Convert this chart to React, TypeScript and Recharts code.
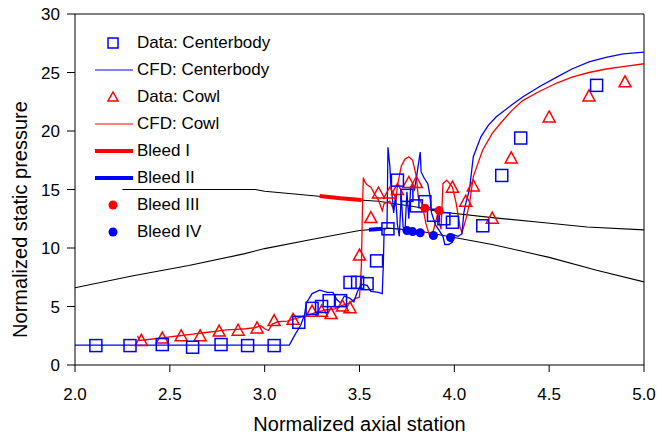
import {
  ComposedChart,
  Line,
  Scatter,
  XAxis,
  YAxis,
  ReferenceLine,
} from "recharts";

type Pt = { x: number; y: number };
const pts = (rows: number[][]): Pt[] => rows.map(([x, y]) => ({ x, y }));

const xTicks = [2.0, 2.5, 3.0, 3.5, 4.0, 4.5, 5.0];
const yTicks = [0, 5, 10, 15, 20, 25, 30];

const dataCenterbody = pts([
  [2.11, 1.66], [2.29, 1.66], [2.46, 1.75], [2.62, 1.52], [2.77, 1.75],
  [2.91, 1.66], [3.05, 1.66], [3.18, 3.65], [3.25, 4.84], [3.3, 5.0],
  [3.34, 5.5], [3.4, 5.5], [3.45, 7.06], [3.49, 7.06], [3.54, 6.95],
  [3.59, 8.9], [3.65, 11.64], [3.7, 15.8], [3.75, 14.5], [3.8, 13.6],
  [3.845, 13.96], [3.89, 12.8], [3.945, 12.5], [3.99, 12.2], [4.15, 11.9],
  [4.25, 16.2], [4.35, 19.4], [4.75, 23.9],
]);

const dataCowl = pts([
  [2.35, 2.1], [2.46, 2.3], [2.56, 2.5], [2.66, 2.5], [2.76, 2.9],
  [2.86, 2.97], [2.96, 3.17], [3.05, 3.8], [3.15, 3.9], [3.25, 4.6],
  [3.3, 4.6], [3.35, 4.4], [3.41, 5.05], [3.45, 4.9], [3.5, 9.4],
  [3.56, 12.6], [3.6, 14.7], [3.66, 14.7], [3.7, 15.0], [3.76, 15.6],
  [3.8, 15.6], [3.99, 15.2], [4.06, 14.0], [4.1, 15.3], [4.2, 12.55],
  [4.3, 17.7], [4.5, 21.2], [4.71, 23.0], [4.9, 24.2],
]);

const cfdCenterbody = pts([
  [2.0, 1.7], [3.13, 1.7], [3.16, 2.6], [3.19, 3.4], [3.21, 4.3],
  [3.22, 5.3], [3.25, 6.1], [3.29, 6.4], [3.33, 6.2], [3.36, 6.2],
  [3.38, 5.6], [3.4, 5.3], [3.42, 5.9], [3.45, 5.7], [3.47, 5.4],
  [3.49, 6.3], [3.51, 6.9], [3.54, 6.8], [3.56, 6.3], [3.6, 6.2],
  [3.62, 6.1], [3.625, 8.3], [3.63, 11.6], [3.645, 11.7], [3.65, 18.6],
  [3.66, 17.0], [3.665, 15.5], [3.675, 14.0], [3.68, 13.0], [3.69, 14.5],
  [3.7, 12.0], [3.71, 11.0], [3.72, 14.5], [3.73, 11.8], [3.74, 11.5],
  [3.75, 14.8], [3.76, 12.5], [3.77, 15.2], [3.78, 15.3], [3.79, 15.0],
  [3.8, 16.0], [3.82, 18.2], [3.825, 16.5], [3.84, 16.0], [3.86, 15.5],
  [3.87, 14.6], [3.88, 13.0], [3.9, 12.0], [3.92, 11.5], [3.94, 11.0],
  [3.95, 10.3], [3.97, 10.3], [3.99, 10.5], [4.0, 11.1], [4.02, 11.0],
  [4.04, 11.2], [4.05, 13.0], [4.06, 13.8], [4.07, 14.4], [4.08, 15.0],
  [4.1, 17.8], [4.14, 19.5], [4.18, 20.5], [4.22, 21.2], [4.3, 22.2],
  [4.36, 22.9], [4.45, 23.8], [4.54, 24.6], [4.62, 25.3], [4.71, 25.9],
  [4.8, 26.3], [4.89, 26.6], [5.0, 26.75],
]);

const cfdCowl = pts([
  [2.33, 2.5], [2.34, 2.1], [2.4, 2.2], [2.45, 2.3], [2.5, 2.4],
  [2.55, 2.5], [2.6, 2.6], [2.65, 2.7], [2.7, 2.8], [2.75, 2.9],
  [2.8, 3.0], [2.85, 3.05], [2.9, 3.1], [2.95, 3.2], [2.98, 3.35],
  [3.0, 3.1], [3.02, 2.95], [3.04, 3.5], [3.07, 3.7], [3.12, 3.75],
  [3.17, 4.0], [3.22, 4.2], [3.27, 4.5], [3.32, 4.7], [3.37, 4.8],
  [3.41, 5.1], [3.45, 5.3], [3.48, 5.7], [3.5, 5.8], [3.51, 8.5],
  [3.515, 13.0], [3.52, 16.0], [3.53, 15.6], [3.54, 15.4], [3.56, 15.2],
  [3.58, 14.6], [3.6, 14.1], [3.62, 13.2], [3.63, 13.8], [3.66, 14.0],
  [3.68, 13.3], [3.69, 13.8], [3.7, 15.3], [3.72, 17.0], [3.74, 17.6],
  [3.76, 17.8], [3.78, 17.5], [3.8, 16.1], [3.81, 14.3], [3.83, 13.8],
  [3.85, 12.1], [3.87, 11.0], [3.89, 11.5], [3.91, 12.8], [3.93, 11.6],
  [3.94, 15.5], [3.96, 15.8], [3.99, 15.2], [4.01, 13.8], [4.03, 11.8],
  [4.04, 11.3], [4.06, 12.4], [4.08, 13.8], [4.1, 16.1], [4.15, 18.4],
  [4.2, 19.8], [4.24, 20.6], [4.3, 21.7], [4.36, 22.6], [4.45, 23.4],
  [4.54, 24.1], [4.62, 24.6], [4.71, 25.0], [4.8, 25.3], [4.89, 25.5],
  [5.0, 25.75],
]);

const upperWall = pts([
  [2.25, 15.0], [2.95, 15.0], [3.0, 14.85], [3.3, 14.4], [3.5, 14.1],
  [3.6, 14.0], [3.8, 13.5], [3.92, 13.1], [4.2, 12.6], [4.45, 12.2],
  [4.7, 11.8], [5.0, 11.55],
]);

const lowerWall = pts([
  [2.0, 6.6], [2.3, 7.6], [2.6, 8.5], [2.89, 9.5], [3.0, 9.95],
  [3.24, 10.7], [3.5, 11.5], [3.65, 11.7], [3.8, 11.5], [4.0, 10.9],
  [4.2, 10.3], [4.5, 9.2], [4.75, 8.1], [5.0, 7.1],
]);

const bleedI = pts([[3.29, 14.45], [3.4, 14.25], [3.51, 14.1]]);
const bleedII = pts([[3.55, 11.55], [3.62, 11.65]]);
const bleedIII = pts([[3.845, 13.4], [3.92, 13.2]]);
const bleedIV = pts([
  [3.75, 11.5], [3.78, 11.4], [3.82, 11.3], [3.89, 11.07], [3.98, 10.9],
]);

const legendItems = [
  "Data: Centerbody",
  "CFD: Centerbody",
  "Data: Cowl",
  "CFD: Cowl",
  "Bleed I",
  "Bleed II",
  "Bleed III",
  "Bleed IV",
];

const BLUE = "#0000ff";
const RED = "#ff0000";
const FONT = "'Liberation Sans', Arial, sans-serif";

const Square = (props: any) => {
  const { cx, cy } = props;
  return (
    <rect x={cx - 6} y={cy - 6} width={12} height={12} fill="none" stroke={BLUE} strokeWidth={1.5} />
  );
};

const Triangle = (props: any) => {
  const { cx, cy } = props;
  return (
    <path
      d={`M${cx},${cy - 6} L${cx + 6},${cy + 5} L${cx - 6},${cy + 5} Z`}
      fill="none"
      stroke={RED}
      strokeWidth={1.5}
    />
  );
};

const Dot = (color: string) => (props: any) => (
  <circle cx={props.cx} cy={props.cy} r={4.5} fill={color} />
);

const LegendIcon = ({ i }: { i: number }) => {
  switch (i) {
    case 0:
      return <rect x={13} y={4} width={10} height={10} fill="none" stroke={BLUE} strokeWidth={1.5} />;
    case 1:
      return <line x1={0} y1={9} x2={38} y2={9} stroke={BLUE} strokeWidth={1} />;
    case 2:
      return <path d="M18,4 L23,13 L13,13 Z" fill="none" stroke={RED} strokeWidth={1.5} />;
    case 3:
      return <line x1={0} y1={9} x2={38} y2={9} stroke={RED} strokeWidth={1} />;
    case 4:
      return <line x1={0} y1={9} x2={38} y2={9} stroke={RED} strokeWidth={4} />;
    case 5:
      return <line x1={0} y1={9} x2={38} y2={9} stroke={BLUE} strokeWidth={4} />;
    case 6:
      return <circle cx={18} cy={9} r={4.5} fill={RED} />;
    default:
      return <circle cx={18} cy={9} r={4.5} fill={BLUE} />;
  }
};

export default function App() {
  const tick = { fill: "#000", fontSize: 17, fontFamily: FONT };
  return (
    <div style={{ position: "absolute", left: 0, top: 0, width: 657, height: 440, background: "#fff" }}>
      <ComposedChart
        width={657}
        height={440}
        margin={{ top: 14, right: 13, bottom: 0, left: 0 }}
      >
        <XAxis
          type="number"
          dataKey="x"
          domain={[2, 5]}
          ticks={xTicks}
          tickFormatter={(v: number) => v.toFixed(1)}
          allowDataOverflow
          height={75}
          stroke="#000"
          tickSize={7}
          tickMargin={16}
          tick={tick}
          label={{
            value: "Normalized axial station",
            position: "insideBottom",
            offset: 9,
            style: { fill: "#000", fontSize: 20, fontFamily: FONT },
          }}
        />
        <YAxis
          type="number"
          dataKey="y"
          domain={[0, 30]}
          ticks={yTicks}
          allowDataOverflow
          width={75}
          stroke="#000"
          tickSize={8}
          tickMargin={7}
          tick={tick}
          label={{
            value: "Normalized static pressure",
            angle: -90,
            position: "insideLeft",
            offset: 20,
            dy: 30,
            style: { fill: "#000", fontSize: 20, fontFamily: FONT, textAnchor: "middle" },
          }}
        />
        <ReferenceLine y={30} stroke="#000" strokeWidth={1} />
        <ReferenceLine x={5} stroke="#000" strokeWidth={1} />

        <Line data={upperWall} dataKey="y" stroke="#000" strokeWidth={1.1} dot={false} isAnimationActive={false} />
        <Line data={lowerWall} dataKey="y" stroke="#000" strokeWidth={1.1} dot={false} isAnimationActive={false} />
        <Line data={cfdCowl} dataKey="y" stroke={RED} strokeWidth={1.3} dot={false} isAnimationActive={false} />
        <Line data={cfdCenterbody} dataKey="y" stroke={BLUE} strokeWidth={1.3} dot={false} isAnimationActive={false} />
        <Line data={bleedI} dataKey="y" stroke={RED} strokeWidth={4} dot={false} isAnimationActive={false} />
        <Line data={bleedII} dataKey="y" stroke={BLUE} strokeWidth={4} dot={false} isAnimationActive={false} />

        <Scatter data={dataCowl} dataKey="y" shape={<Triangle />} isAnimationActive={false} />
        <Scatter data={dataCenterbody} dataKey="y" shape={<Square />} isAnimationActive={false} />
        <Scatter data={bleedIII} dataKey="y" shape={Dot(RED)} isAnimationActive={false} />
        <Scatter data={bleedIV} dataKey="y" shape={Dot(BLUE)} isAnimationActive={false} />
      </ComposedChart>

      <div style={{ position: "absolute", left: 95, top: 30, fontFamily: FONT, fontSize: 17, color: "#000" }}>
        {legendItems.map((name, i) => (
          <div key={name} style={{ display: "flex", alignItems: "center", height: 26.9 }}>
            <svg width={38} height={18} style={{ marginRight: 4 }}>
              <LegendIcon i={i} />
            </svg>
            <span>{name}</span>
          </div>
        ))}
      </div>
    </div>
  );
}
